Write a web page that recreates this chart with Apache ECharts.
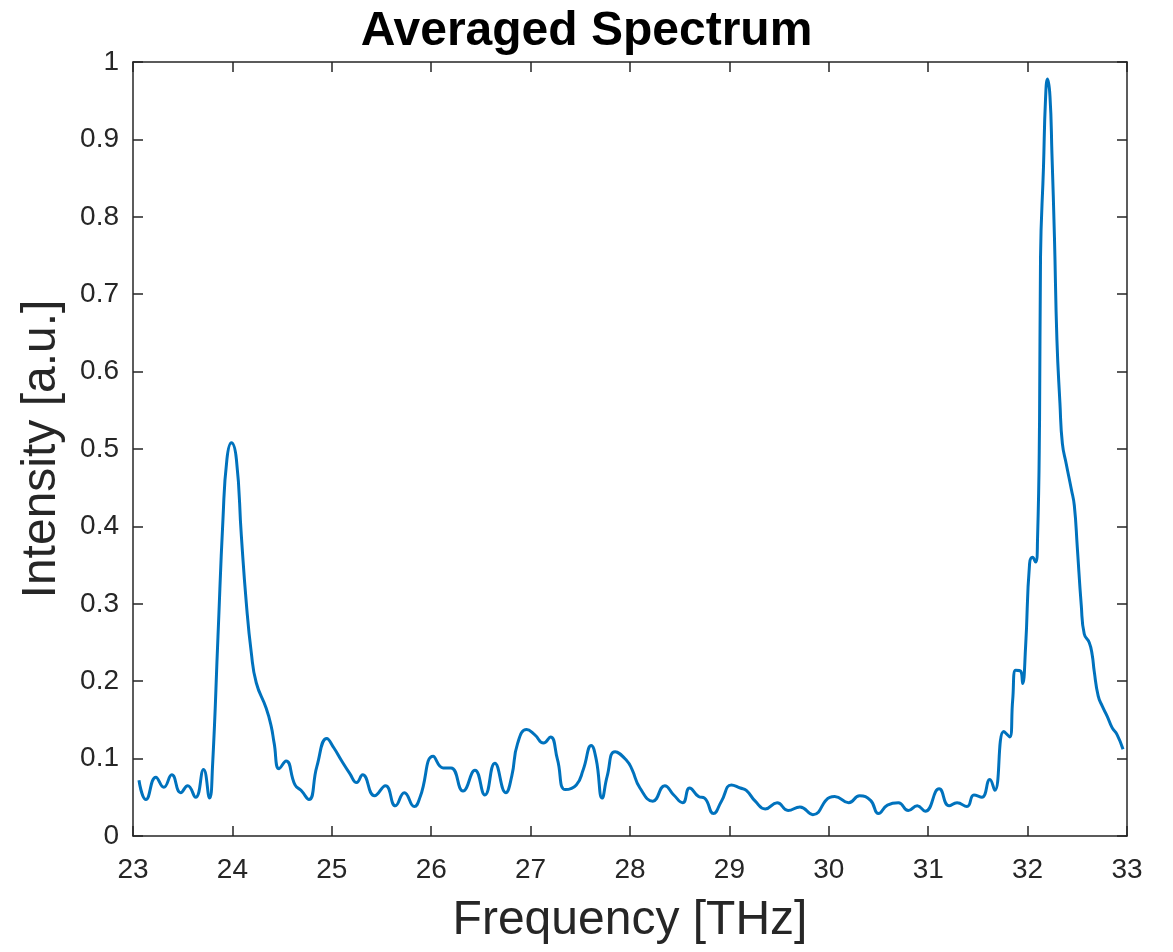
<!DOCTYPE html>
<html>
<head>
<meta charset="UTF-8">
<title>Averaged Spectrum</title>
<script src="https://cdn.jsdelivr.net/npm/echarts@6/dist/echarts.min.js"></script>
<style>
  html, body { margin: 0; padding: 0; background: #fff; }
  #main { width: 1173px; height: 952px; }
</style>
</head>
<body>
<div id="main"></div>
<script>
// frequency [THz]
var freq = [
  23.06, 23.13, 23.23, 23.31, 23.39, 23.48, 23.55, 23.63, 23.71, 23.77,
  23.80, 23.855, 23.905, 23.945, 23.99, 24.04, 24.09, 24.14, 24.19, 24.24,
  24.34, 24.39, 24.42, 24.47, 24.54, 24.63, 24.69, 24.77, 24.85, 24.95,
  25.02, 25.10, 25.18, 25.25, 25.31, 25.43, 25.54, 25.64, 25.73, 25.83,
  25.89, 26.02, 26.12, 26.20, 26.32, 26.44, 26.54, 26.64, 26.75, 26.81,
  26.87, 26.96, 27.04, 27.13, 27.20, 27.27, 27.35, 27.46, 27.53, 27.61,
  27.66, 27.72, 27.77, 27.85, 27.97, 28.02, 28.10, 28.23, 28.35, 28.44,
  28.53, 28.60, 28.69, 28.75, 28.84, 28.92, 29.02, 29.11, 29.17, 29.26,
  29.36, 29.48, 29.59, 29.71, 29.84, 30.01, 30.06, 30.20, 30.31, 30.42,
  30.50, 30.59, 30.70, 30.80, 30.89, 30.97, 31.11, 31.21, 31.29, 31.39,
  31.46, 31.54, 31.62, 31.67, 31.76, 31.82, 31.85, 31.88, 31.93, 31.95,
  31.98, 32.02, 32.05, 32.08, 32.10, 32.12, 32.13, 32.16, 32.18, 32.20,
  32.225, 32.245, 32.27, 32.295, 32.325, 32.35, 32.39, 32.44, 32.47, 32.50,
  32.54, 32.57, 32.62, 32.65, 32.67, 32.71, 32.75, 32.80, 32.85, 32.90,
  32.96
];
// intensity [a.u.]
var intensity = [
  0.072, 0.047, 0.076, 0.063, 0.079, 0.056, 0.065, 0.050, 0.086, 0.049,
  0.090, 0.258, 0.409, 0.487, 0.508, 0.487, 0.388, 0.301, 0.237, 0.198,
  0.165, 0.142, 0.120, 0.087, 0.097, 0.066, 0.059, 0.047, 0.090, 0.126,
  0.114, 0.097, 0.081, 0.069, 0.079, 0.052, 0.065, 0.039, 0.056, 0.038,
  0.051, 0.103, 0.088, 0.088, 0.058, 0.085, 0.053, 0.094, 0.056, 0.077,
  0.120, 0.1375, 0.131, 0.120, 0.128, 0.099, 0.060, 0.066, 0.086, 0.117,
  0.099, 0.049, 0.077, 0.109, 0.097, 0.086, 0.062, 0.045, 0.065, 0.053,
  0.043, 0.062, 0.051, 0.049, 0.029, 0.045, 0.066, 0.062, 0.059, 0.045,
  0.035, 0.043, 0.033, 0.0375, 0.0276, 0.050, 0.051, 0.043, 0.052, 0.046,
  0.029, 0.040, 0.043, 0.033, 0.039, 0.032, 0.061, 0.039, 0.043, 0.038,
  0.053, 0.050, 0.073, 0.059, 0.135, 0.128, 0.176, 0.214, 0.213, 0.197,
  0.245, 0.352, 0.360, 0.354, 0.384, 0.534, 0.748, 0.865, 0.951, 0.978,
  0.956, 0.881, 0.774, 0.641, 0.560, 0.507, 0.480, 0.448, 0.427, 0.373,
  0.298, 0.261, 0.250, 0.234, 0.213, 0.181, 0.168, 0.155, 0.140, 0.131,
  0.112
];

var points = [];
for (var i = 0; i < freq.length; i++) {
  points.push([freq[i], intensity[i]]);
}

var axisCol = '#262626';
var font = '"Liberation Sans", Arial, sans-serif';

var myChart = echarts.init(document.getElementById('main'));
var option = {
  animation: false,
  title: {
    text: 'Averaged Spectrum',
    left: 'center',
    top: 3,
    textStyle: { fontFamily: font, fontSize: 48, fontWeight: 'bold', color: '#000' }
  },
  grid: { left: 133, right: 46, top: 62, bottom: 116, outerBoundsMode: 'none', containLabel: false },
  xAxis: [{
    type: 'value',
    min: 23, max: 33, interval: 1,
    name: 'Frequency [THz]',
    nameLocation: 'middle',
    nameGap: 61,
    nameTextStyle: { fontFamily: font, fontSize: 48, color: axisCol },
    axisLine: { show: true, onZero: false, lineStyle: { color: axisCol, width: 1.5 } },
    axisTick: { show: true, inside: true, length: 10, lineStyle: { color: axisCol, width: 1.5 } },
    axisLabel: { fontFamily: font, fontSize: 28, color: axisCol, margin: 20 },
    splitLine: { show: false }
  }, {
    type: 'value',
    position: 'top',
    min: 23, max: 33, interval: 1,
    axisLine: { show: true, onZero: false, lineStyle: { color: axisCol, width: 1.5 } },
    axisTick: { show: true, inside: true, length: 10, lineStyle: { color: axisCol, width: 1.5 } },
    axisLabel: { show: false },
    splitLine: { show: false }
  }],
  yAxis: [{
    type: 'value',
    min: 0, max: 1, interval: 0.1,
    name: 'Intensity [a.u.]',
    nameLocation: 'middle',
    nameGap: 67,
    nameTextStyle: { fontFamily: font, fontSize: 48, color: axisCol },
    axisLine: { show: true, onZero: false, lineStyle: { color: axisCol, width: 1.5 } },
    axisTick: { show: true, inside: true, length: 10, lineStyle: { color: axisCol, width: 1.5 } },
    axisLabel: { fontFamily: font, fontSize: 28, color: axisCol, margin: 14 },
    splitLine: { show: false }
  }, {
    type: 'value',
    position: 'right',
    min: 0, max: 1, interval: 0.1,
    axisLine: { show: true, onZero: false, lineStyle: { color: axisCol, width: 1.5 } },
    axisTick: { show: true, inside: true, length: 10, lineStyle: { color: axisCol, width: 1.5 } },
    axisLabel: { show: false },
    splitLine: { show: false }
  }],
  series: [{
    type: 'line',
    data: points,
    showSymbol: false,
    smooth: 0.5,
    lineStyle: { color: '#0072BD', width: 3 }
  }]
};
myChart.setOption(option);
</script>
</body>
</html>
